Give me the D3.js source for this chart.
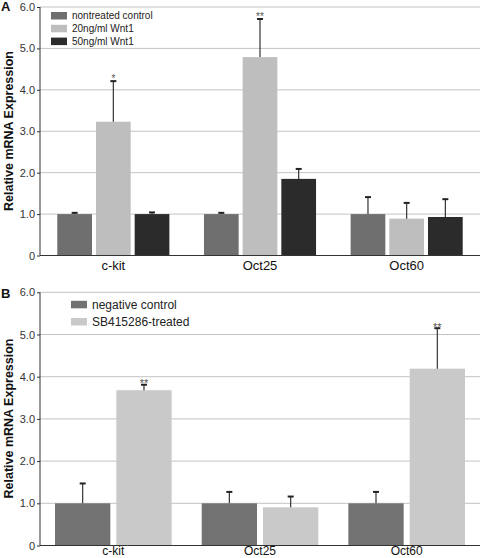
<!DOCTYPE html>
<html><head><meta charset="utf-8">
<script src="https://cdn.jsdelivr.net/npm/d3@7"></script>
<style>body{margin:0;background:#fff}svg{display:block;font-family:"Liberation Sans",Arial,sans-serif}</style>
</head><body>
<svg id="c" width="481" height="558"></svg>
<script>
const categories = ["c-kit", "Oct25", "Oct60"];
const yTickValues = [0, 1, 2, 3, 4, 5, 6];
const yTickLabels = ["0", "1.0", "2.0", "3.0", "4.0", "5.0", "6.0"];

// Panel A
const seriesA = ["nontreated control", "20ng/ml Wnt1", "50ng/ml Wnt1"];
const colorsA = ["#6f6f6f", "#bebebe", "#2b2b2b"];
const meanA_nontreated = [1.00, 1.00, 1.00];
const meanA_wnt20 = [3.23, 4.79, 0.89];
const meanA_wnt50 = [1.00, 1.85, 0.93];
const errA_nontreated = [0.03, 0.03, 0.41];
const errA_wnt20 = [0.98, 0.92, 0.38];
const errA_wnt50 = [0.04, 0.24, 0.43];
const sigA_nontreated = ["", "", ""];
const sigA_wnt20 = ["*", "**", ""];
const sigA_wnt50 = ["", "", ""];

// Panel B
const seriesB = ["negative control", "SB415286-treated"];
const colorsB = ["#727272", "#c9c9c9"];
const meanB_neg = [1.00, 1.00, 1.00];
const meanB_sb = [3.68, 0.905, 4.19];
const errB_neg = [0.47, 0.27, 0.27];
const errB_sb = [0.13, 0.255, 0.96];
const sigB_neg = ["", "", ""];
const sigB_sb = ["**", "", "**"];

const svg = d3.select("#c");

function panel(cfg) {
  const g = svg.append("g");
  const y = d3.scaleLinear().domain([0, 6]).range([cfg.y0, cfg.y6]);
  const x0 = d3.scaleBand().domain(categories).range([40, 480]).padding(0);
  const x1 = d3.scaleBand().domain(cfg.series).range([0, x0.bandwidth()])
    .paddingInner(cfg.pi).paddingOuter(cfg.po);

  // grid
  g.selectAll(".grid").data(yTickValues.filter(v => v > 0)).join("line")
    .attr("x1", 40).attr("x2", 480)
    .attr("y1", d => y(d)).attr("y2", d => y(d))
    .attr("stroke", "#c4c4c4").attr("stroke-width", 1);

  // y axis
  const ya = d3.axisLeft(y).tickValues(yTickValues).tickSize(3)
    .tickFormat((d, i) => yTickLabels[i]);
  const yg = g.append("g").attr("transform", "translate(40,0)").call(ya);
  yg.select(".domain").attr("stroke", "#333").attr("d", `M0,${y(6)}V${y(0)}`);
  yg.selectAll(".tick line").attr("stroke", "#333");
  yg.selectAll(".tick text").attr("font-size", 11).attr("fill", "#333")
    .attr("font-family", "Liberation Sans, Arial, sans-serif").attr("x", -5);

  // bars
  cfg.series.forEach((s, si) => {
    const mean = cfg.means[si], err = cfg.errs[si], sig = cfg.sigs[si];
    const bg = g.append("g");
    bg.selectAll("rect").data(categories).join("rect")
      .attr("x", c => x0(c) + x1(s))
      .attr("width", x1.bandwidth())
      .attr("y", (c, i) => y(mean[i]))
      .attr("height", (c, i) => y(0) - y(mean[i]))
      .attr("fill", cfg.colors[si]);
    // error bars
    bg.selectAll(".eb").data(categories).join("line")
      .attr("x1", c => x0(c) + x1(s) + x1.bandwidth() / 2)
      .attr("x2", c => x0(c) + x1(s) + x1.bandwidth() / 2)
      .attr("y1", (c, i) => y(mean[i]))
      .attr("y2", (c, i) => y(mean[i] + err[i]))
      .attr("stroke", "#333").attr("stroke-width", 1.2);
    bg.selectAll(".cap").data(categories).join("line")
      .attr("x1", c => x0(c) + x1(s) + x1.bandwidth() / 2 - 3)
      .attr("x2", c => x0(c) + x1(s) + x1.bandwidth() / 2 + 3)
      .attr("y1", (c, i) => y(mean[i] + err[i]))
      .attr("y2", (c, i) => y(mean[i] + err[i]))
      .attr("stroke", "#222").attr("stroke-width", 2);
    bg.selectAll(".sig").data(categories).join("text")
      .attr("x", c => x0(c) + x1(s) + x1.bandwidth() / 2)
      .attr("y", (c, i) => y(mean[i] + err[i]) + cfg.sigOff)
      .attr("text-anchor", "middle").attr("font-size", cfg.sigSize).attr("fill", "#555")
      .text((c, i) => sig[i]);
  });

  // x axis
  g.append("line").attr("x1", 40).attr("x2", 480).attr("y1", y(0)).attr("y2", y(0))
    .attr("stroke", "#333").attr("stroke-width", 1.2);
  g.selectAll(".xl").data(categories).join("text")
    .attr("x", c => x0(c) + x0.bandwidth() / 2)
    .attr("y", y(0) + cfg.xlOff)
    .attr("text-anchor", "middle").attr("font-size", cfg.xlSize).attr("fill", "#111")
    .text(c => c);

  // y title
  g.append("text")
    .attr("transform", `translate(13,${cfg.titleY}) rotate(-90)`)
    .attr("text-anchor", "middle").attr("font-size", 12.5).attr("font-weight", "bold")
    .attr("fill", "#111").text("Relative mRNA Expression");

  // panel letter
  g.append("text").attr("x", 1).attr("y", cfg.letterY)
    .attr("font-size", 13).attr("font-weight", "bold").attr("fill", "#111").text(cfg.letter);

  // legend
  cfg.series.forEach((s, si) => {
    const cy = cfg.legY + si * cfg.legStep;
    g.append("rect").attr("x", cfg.legX).attr("y", cy - 3.5).attr("width", 16).attr("height", 7.5)
      .attr("fill", cfg.colors[si]);
    g.append("text").attr("x", cfg.legX + cfg.legTextDx).attr("y", cy + cfg.legFont * 0.36)
      .attr("font-size", cfg.legFont).attr("fill", "#222").text(s);
  });
}

panel({
  y0: 255.5, y6: 7, series: seriesA, colors: colorsA,
  means: [meanA_nontreated, meanA_wnt20, meanA_wnt50],
  errs: [errA_nontreated, errA_wnt20, errA_wnt50],
  sigs: [sigA_nontreated, sigA_wnt20, sigA_wnt50],
  pi: 0.103, po: 0.447, sigOff: 1, sigSize: 10, xlOff: 14, xlSize: 13,
  titleY: 131, letter: "A", letterY: 11,
  legX: 51, legY: 15.5, legStep: 12.8, legTextDx: 21, legFont: 10
});

panel({
  y0: 545.5, y6: 292.3, series: seriesB, colors: colorsB,
  means: [meanB_neg, meanB_sb],
  errs: [errB_neg, errB_sb],
  sigs: [sigB_neg, sigB_sb],
  pi: 0.098, po: 0.245, sigOff: 2.5, sigSize: 11, xlOff: 9.5, xlSize: 12,
  titleY: 418.5, letter: "B", letterY: 298,
  legX: 71, legY: 304.3, legStep: 17.2, legTextDx: 21, legFont: 12
});
</script>
</body></html>
